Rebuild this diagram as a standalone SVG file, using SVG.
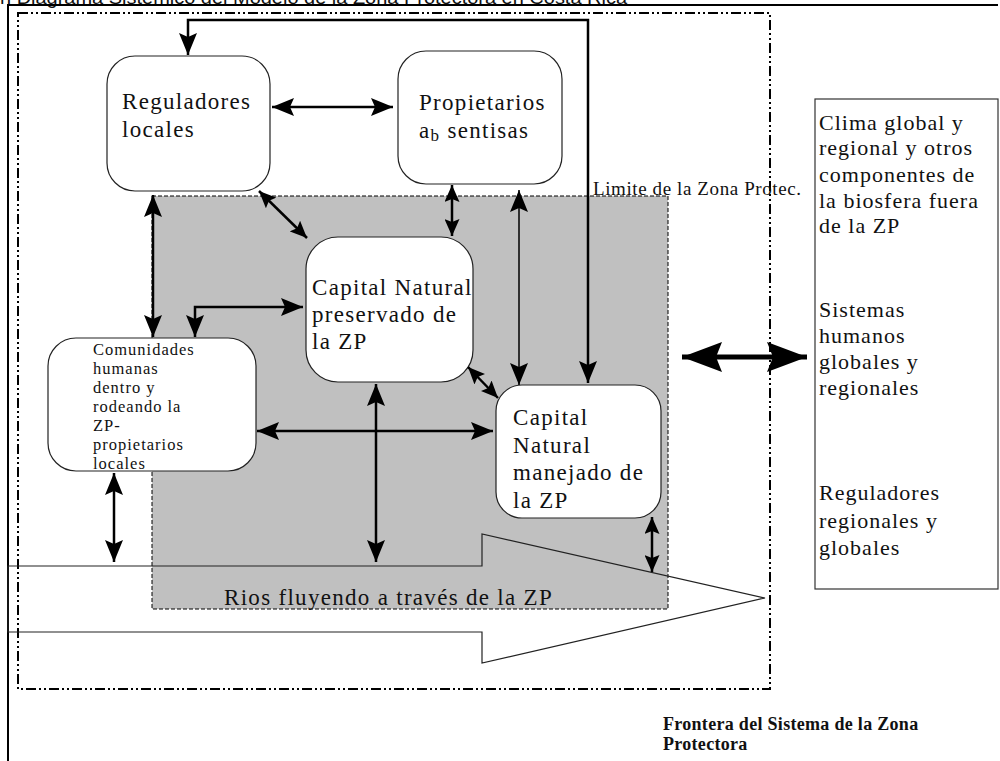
<svg xmlns="http://www.w3.org/2000/svg" width="1000" height="761" viewBox="0 0 1000 761">
<style>
.t{font-family:"Liberation Serif","Times New Roman",serif;fill:#111;}
.box{fill:#fff;stroke:#222;stroke-width:1.2;}
.c{fill:none;stroke:#000;stroke-width:2.5;}
.cs{fill:none;stroke:#000;stroke-width:1.5;}
</style>
<defs>
<marker id="ah" viewBox="0 0 22 18" refX="22" refY="9" markerWidth="22" markerHeight="18" markerUnits="userSpaceOnUse" orient="auto-start-reverse">
<path d="M0,0 L22,9 L0,18 L4,9 z" fill="#000"/>
</marker>
<marker id="ahs" viewBox="0 0 17 15" refX="17" refY="7.5" markerWidth="17" markerHeight="15" markerUnits="userSpaceOnUse" orient="auto-start-reverse">
<path d="M0,0 L17,7.5 L0,15 L3,7.5 z" fill="#000"/>
</marker>
<marker id="ahb" viewBox="0 0 40 30" refX="40" refY="15" markerWidth="40" markerHeight="30" markerUnits="userSpaceOnUse" orient="auto-start-reverse">
<path d="M0,0 L40,15 L0,30 L6,15 z" fill="#000"/>
</marker>
</defs>

<text x="0" y="4" font-family="Liberation Sans, Arial, sans-serif" font-size="18" fill="#111" textLength="627" lengthAdjust="spacingAndGlyphs">n Diagrama Sistémico del Modelo de la Zona Protectora en Costa Rica</text>

<g id="frame">
<line x1="8" y1="5" x2="998" y2="5" stroke="#000" stroke-width="2"/>
<line x1="8" y1="4" x2="8" y2="761" stroke="#000" stroke-width="2"/>
</g>

<g id="boundary">
<rect x="18" y="13" width="752" height="676" fill="none" stroke="#000" stroke-width="2" stroke-dasharray="10 3 2 3 2 3"/>
</g>

<g id="zona">
<rect x="152" y="196" width="516" height="413" fill="#c0c0c0" stroke="#000" stroke-width="1" stroke-dasharray="4 2"/>
<text class="t" x="593" y="195" font-size="19" letter-spacing="0.6">Limite de la Zona Protec.</text>
</g>

<g id="rio">
<polygon points="8,566 482,566 482,534 765,598 482,663 482,632 8,632" fill="none" stroke="#222" stroke-width="1.2"/>
<text class="t" x="224" y="605" font-size="23" letter-spacing="1.3">Rios fluyendo a través de la ZP</text>
</g>

<g id="reguladores">
<rect class="box" x="107" y="56" width="163" height="135" rx="28" ry="28"/>
<text class="t" font-size="23" letter-spacing="1.3"><tspan x="122" y="109">Reguladores</tspan><tspan x="122" y="137">locales</tspan></text>
</g>

<g id="propietarios">
<rect class="box" x="398" y="51" width="164" height="133" rx="28" ry="28"/>
<text class="t" font-size="23" letter-spacing="1.3"><tspan x="419" y="110">Propietarios</tspan><tspan x="419" y="138">a<tspan font-size="17" dy="3">b</tspan><tspan dy="-3"> sentisas</tspan></tspan></text>
</g>

<g id="capital-preservado">
<rect class="box" x="306" y="237" width="167" height="145" rx="32" ry="32"/>
<text class="t" font-size="23" letter-spacing="1.3"><tspan x="312" y="295">Capital Natural</tspan><tspan x="312" y="322">preservado de</tspan><tspan x="312" y="349">la ZP</tspan></text>
</g>

<g id="comunidades">
<rect class="box" x="48" y="338" width="208" height="133" rx="28" ry="28"/>
<text class="t" font-size="16.5" letter-spacing="1"><tspan x="93" y="355">Comunidades</tspan><tspan x="93" y="374">humanas</tspan><tspan x="93" y="393">dentro y</tspan><tspan x="93" y="412">rodeando la</tspan><tspan x="93" y="431">ZP-</tspan><tspan x="93" y="450">propietarios</tspan><tspan x="93" y="469">locales</tspan></text>
</g>

<g id="capital-manejado">
<rect class="box" x="496" y="385" width="165" height="133" rx="26" ry="26"/>
<text class="t" font-size="23" letter-spacing="1.3"><tspan x="513" y="425">Capital</tspan><tspan x="513" y="453">Natural</tspan><tspan x="513" y="480">manejado de</tspan><tspan x="513" y="508">la ZP</tspan></text>
</g>

<g id="externos">
<rect x="815" y="99" width="183" height="490" fill="#fff" stroke="#333" stroke-width="1.2"/>
<text class="t" font-size="22" letter-spacing="1"><tspan x="819" y="130">Clima global y</tspan><tspan x="819" y="155">regional y otros</tspan><tspan x="819" y="182">componentes de</tspan><tspan x="819" y="208">la biosfera fuera</tspan><tspan x="819" y="233">de la ZP</tspan><tspan x="819" y="317">Sistemas</tspan><tspan x="819" y="343">humanos</tspan><tspan x="819" y="369">globales y</tspan><tspan x="819" y="395">regionales</tspan><tspan x="819" y="500">Reguladores</tspan><tspan x="819" y="528">regionales y</tspan><tspan x="819" y="555">globales</tspan></text>
</g>

<g id="leyenda">
<text class="t" font-size="18" font-weight="bold" letter-spacing="0.3"><tspan x="663" y="730">Frontera del Sistema de la Zona</tspan><tspan x="663" y="750">Protectora</tspan></text>
</g>

<g id="connectors">
<path class="c" d="M188,55 V20 H588 V383" marker-start="url(#ah)" marker-end="url(#ah)"/>
<line class="c" x1="272" y1="107" x2="393" y2="107" marker-start="url(#ah)" marker-end="url(#ah)"/>
<line class="c" x1="259" y1="191" x2="307" y2="238" marker-start="url(#ahs)" marker-end="url(#ahs)"/>
<line class="c" x1="153" y1="195" x2="153" y2="337" marker-start="url(#ah)" marker-end="url(#ah)"/>
<path class="c" d="M195,337 V307 H303" marker-start="url(#ah)" marker-end="url(#ah)"/>
<line class="c" x1="452" y1="185" x2="452" y2="236" marker-start="url(#ahs)" marker-end="url(#ahs)"/>
<line class="cs" x1="519" y1="190" x2="519" y2="385" marker-start="url(#ah)" marker-end="url(#ah)"/>
<line class="c" x1="468" y1="367" x2="498" y2="398" marker-start="url(#ahs)" marker-end="url(#ahs)"/>
<line class="c" x1="257" y1="431" x2="493" y2="431" marker-start="url(#ah)" marker-end="url(#ah)"/>
<line class="c" x1="376" y1="384" x2="376" y2="562" marker-start="url(#ah)" marker-end="url(#ah)"/>
<line class="c" x1="114" y1="473" x2="114" y2="562" marker-start="url(#ah)" marker-end="url(#ah)"/>
<line class="c" x1="652" y1="517" x2="652" y2="572" marker-start="url(#ahs)" marker-end="url(#ahs)"/>
<line fill="none" stroke="#000" stroke-width="5" x1="682" y1="357" x2="807" y2="357" marker-start="url(#ahb)" marker-end="url(#ahb)"/>
</g>
</svg>
